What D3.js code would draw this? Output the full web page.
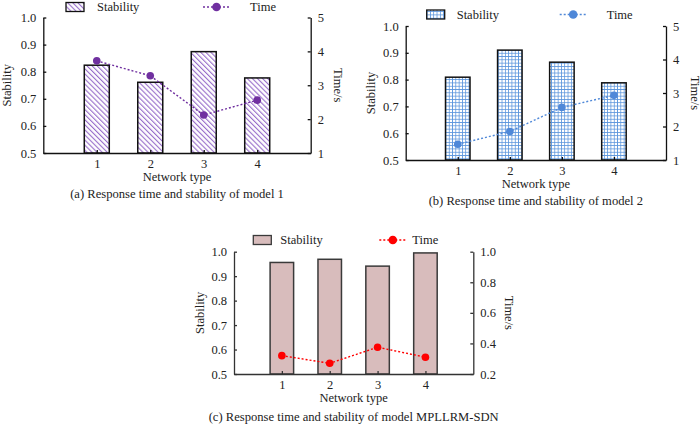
<!DOCTYPE html>
<html>
<head>
<meta charset="utf-8">
<script src="https://cdn.jsdelivr.net/npm/d3@7"></script>
<style>
  body { margin: 0; background: #fff; }
  svg { display: block; font-family: "Liberation Serif", "Times New Roman", serif; }
</style>
</head>
<body>
<svg id="chart" width="700" height="424"></svg>
<script>
// Data
const networkTypes = [1, 2, 3, 4];
const stabilityTicks = [0.5, 0.6, 0.7, 0.8, 0.9, 1.0];
const timeTicksAB = [1, 2, 3, 4, 5];
const timeTicksC = [0.2, 0.4, 0.6, 0.8, 1.0];

const stabilityA = [0.824, 0.761, 0.874, 0.777];
const timeA = [3.72, 3.28, 2.12, 2.56];
const stabilityB = [0.809, 0.910, 0.865, 0.788];
const timeB = [1.47, 1.85, 2.57, 2.93];
const stabilityC = [0.956, 0.969, 0.941, 0.995];
const timeC = [0.32, 0.27, 0.375, 0.31];

const captions = [
    '(a) Response time and stability of model 1',
    '(b) Response time and stability of model 2',
    '(c) Response time and stability of model MPLLRM-SDN'
];

const svg = d3.select('#chart');
const defs = svg.append('defs');

// Diagonal hatch for panel (a)
const hatch = defs.append('pattern')
    .attr('id', 'hatchA')
    .attr('patternUnits', 'userSpaceOnUse')
    .attr('width', 3.6).attr('height', 3.6)
    .attr('patternTransform', 'rotate(-45)');
hatch.append('rect').attr('width', 3.6).attr('height', 3.6).attr('fill', '#fff');
hatch.append('line')
    .attr('x1', 0.6).attr('y1', 0).attr('x2', 0.6).attr('y2', 3.6)
    .attr('stroke', '#8b5cc4').attr('stroke-width', 1);

// Grid for panel (b)
const grid = defs.append('pattern')
    .attr('id', 'gridB')
    .attr('patternUnits', 'userSpaceOnUse')
    .attr('width', 3.3).attr('height', 3.3);
grid.append('rect').attr('width', 3.3).attr('height', 3.3).attr('fill', '#fff');
grid.append('path')
    .attr('d', 'M0,0.4H3.3M0.4,0V3.3')
    .attr('stroke', '#5b95dc').attr('stroke-width', 0.8);

function drawPanel(cfg) {
    const g = svg.append('g');

    const x = d3.scalePoint()
        .domain(networkTypes)
        .range([cfg.left, cfg.right])
        .padding(1);
    const yL = d3.scaleLinear().domain([0.5, 1.0]).range([cfg.bottom, cfg.top]);
    const yR = d3.scaleLinear().domain(cfg.timeDomain).range([cfg.bottom, cfg.top]);

    // Bars
    g.selectAll('rect.bar')
        .data(cfg.stability)
        .join('rect')
        .attr('class', 'bar')
        .attr('x', (d, i) => x(networkTypes[i]) - cfg.barWidth / 2)
        .attr('width', cfg.barWidth)
        .attr('y', d => yL(d))
        .attr('height', d => cfg.bottom - yL(d))
        .attr('fill', cfg.barFill)
        .attr('stroke', cfg.barStroke)
        .attr('stroke-width', 1.5);

    // Axes
    const axisLeft = d3.axisLeft(yL).tickValues(stabilityTicks)
        .tickFormat(d3.format('.1f')).tickSizeInner(-3).tickSizeOuter(0).tickPadding(7);
    const axisRight = d3.axisRight(yR).tickValues(cfg.timeTicks)
        .tickFormat(cfg.timeFormat).tickSizeInner(-3).tickSizeOuter(0).tickPadding(7);
    const axisBottom = d3.axisBottom(x)
        .tickSizeInner(-3).tickSizeOuter(0).tickPadding(6);

    const gl = g.append('g').attr('transform', `translate(${cfg.left},0)`).call(axisLeft);
    const gr = g.append('g').attr('transform', `translate(${cfg.right},0)`).call(axisRight);
    const gb = g.append('g').attr('transform', `translate(0,${cfg.bottom})`).call(axisBottom);
    [gl, gr, gb].forEach(a => {
        a.selectAll('path, line').attr('stroke', cfg.axisColor).attr('stroke-width', 1.3);
        a.selectAll('text').attr('fill', '#222').style('font-size', '12.5px')
            .style('font-family', '"Liberation Serif", "Times New Roman", serif');
    });

    // Time line
    const line = d3.line()
        .x((d, i) => x(networkTypes[i]))
        .y(d => yR(d));
    g.append('path')
        .datum(cfg.time)
        .attr('d', line)
        .attr('fill', 'none')
        .attr('stroke', cfg.timeColor)
        .attr('stroke-width', 1.4)
        .attr('stroke-dasharray', '2,2');
    g.selectAll('circle.pt')
        .data(cfg.time)
        .join('circle')
        .attr('class', 'pt')
        .attr('cx', (d, i) => x(networkTypes[i]))
        .attr('cy', d => yR(d))
        .attr('r', 3.8)
        .attr('fill', cfg.timeColor);

    // Axis titles
    const midY = (cfg.top + cfg.bottom) / 2;
    const midX = (cfg.left + cfg.right) / 2;
    g.append('text')
        .attr('transform', `translate(${cfg.left - cfg.leftTitleOffset},${midY}) rotate(-90)`)
        .attr('text-anchor', 'middle').attr('font-size', 12.5).attr('fill', '#222')
        .text('Stability');
    g.append('text')
        .attr('transform', `translate(${cfg.right + cfg.rightTitleOffset},${midY}) rotate(90)`)
        .attr('text-anchor', 'middle').attr('font-size', 12.5).attr('fill', '#222')
        .text('Time/s');
    g.append('text')
        .attr('x', midX).attr('y', cfg.bottom + 28)
        .attr('text-anchor', 'middle').attr('font-size', 12.5).attr('fill', '#222')
        .text('Network type');
    g.append('text')
        .attr('x', midX).attr('y', cfg.bottom + cfg.captionOffset)
        .attr('text-anchor', 'middle').attr('font-size', 12.6).attr('fill', '#222')
        .text(cfg.caption);

    // Legend
    const lg = g.append('g').attr('transform', `translate(${cfg.legendX},${cfg.legendY})`);
    lg.append('rect')
        .attr('x', 0).attr('y', -4.5).attr('width', 18).attr('height', 9)
        .attr('fill', cfg.barFill).attr('stroke', cfg.barStroke).attr('stroke-width', 1.3);
    lg.append('text').attr('x', cfg.legendTextGap).attr('y', 4)
        .attr('font-size', 12.5).attr('fill', '#222').text('Stability');
    lg.append('line')
        .attr('x1', cfg.legendLineX).attr('x2', cfg.legendLineX + 27)
        .attr('y1', 0).attr('y2', 0)
        .attr('stroke', cfg.timeColor).attr('stroke-width', 1.4).attr('stroke-dasharray', '2,2');
    lg.append('circle')
        .attr('cx', cfg.legendLineX + 13.5).attr('cy', 0).attr('r', 4.3)
        .attr('fill', cfg.timeColor);
    lg.append('text').attr('x', cfg.legendLineX + cfg.legendTimeGap).attr('y', 4)
        .attr('font-size', 12.5).attr('fill', '#222').text('Time');
}

drawPanel({
    left: 43.3, right: 310.7, top: 17.5, bottom: 153,
    stability: stabilityA, time: timeA,
    timeDomain: [1, 5], timeTicks: timeTicksAB, timeFormat: d3.format('d'),
    barWidth: 25, barFill: 'url(#hatchA)', barStroke: '#111', axisColor: '#111',
    timeColor: '#7030a0', leftTitleOffset: 32, rightTitleOffset: 23, captionOffset: 45,
    caption: captions[0],
    legendX: 66, legendY: 7, legendTextGap: 31, legendLineX: 137, legendTimeGap: 47
});

drawPanel({
    left: 405.7, right: 666, top: 26, bottom: 160,
    stability: stabilityB, time: timeB,
    timeDomain: [1, 5], timeTicks: timeTicksAB, timeFormat: d3.format('d'),
    barWidth: 24.5, barFill: 'url(#gridB)', barStroke: '#111', axisColor: '#111',
    timeColor: '#4f88d8', leftTitleOffset: 31, rightTitleOffset: 24.5, captionOffset: 45,
    caption: captions[1],
    legendX: 426.7, legendY: 14.5, legendTextGap: 30, legendLineX: 133, legendTimeGap: 47
});

drawPanel({
    left: 234, right: 473.3, top: 251.7, bottom: 374,
    stability: stabilityC, time: timeC,
    timeDomain: [0.2, 1.0], timeTicks: timeTicksC, timeFormat: d3.format('.1f'),
    barWidth: 23.5, barFill: '#d8bcbc', barStroke: '#3a3a3a', axisColor: '#333',
    timeColor: '#ff0000', leftTitleOffset: 30, rightTitleOffset: 31.5, captionOffset: 47,
    caption: captions[2],
    legendX: 253.3, legendY: 240, legendTextGap: 27, legendLineX: 126, legendTimeGap: 33
});
</script>
</body>
</html>
